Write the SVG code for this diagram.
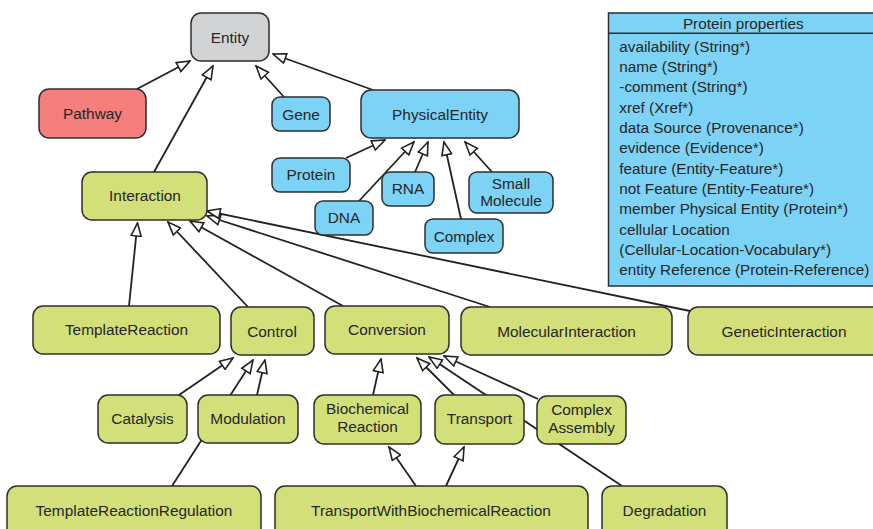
<svg xmlns="http://www.w3.org/2000/svg" width="873" height="529" viewBox="0 0 873 529">
<defs>
<style>
.n rect{stroke:#2e2e2e;stroke-width:1.5}
.g rect{fill:#d1d2d4}
.p rect{fill:#f37e7c}
.b rect{fill:#7dd3f5}
.y rect{fill:#d3e07a}
text{font-family:"Liberation Sans",Arial,sans-serif;font-size:15.4px;fill:#262626;text-anchor:middle}
.props text{text-anchor:start;font-size:15.3px}
.props text.h{text-anchor:middle}
#connectors line{stroke:#222;stroke-width:1.8;fill:none;marker-end:url(#tri)}
</style>
<marker id="tri" viewBox="0 0 15 12" refX="14" refY="6" markerWidth="15" markerHeight="12" markerUnits="userSpaceOnUse" orient="auto">
<path d="M1,1 L14,6 L1,11 Z" fill="#fff" stroke="#222" stroke-width="1.6" stroke-linejoin="miter"/>
</marker>
</defs>
<rect width="873" height="529" fill="#fff"/>
<g id="connectors">
<line x1="137" y1="89" x2="190" y2="61"/>
<line x1="154" y1="172" x2="213" y2="66"/>
<line x1="284" y1="97" x2="256" y2="66"/>
<line x1="373" y1="90" x2="273" y2="54"/>
<line x1="346" y1="158" x2="385" y2="140"/>
<line x1="359" y1="201" x2="414" y2="142"/>
<line x1="415" y1="172" x2="428" y2="142"/>
<line x1="461" y1="219" x2="444" y2="142"/>
<line x1="492" y1="172" x2="465" y2="142"/>
<line x1="129" y1="306" x2="137.5" y2="223"/>
<line x1="248" y1="307" x2="168" y2="222"/>
<line x1="343" y1="306" x2="190" y2="221"/>
<line x1="490" y1="307" x2="207" y2="216"/>
<line x1="690" y1="311" x2="207" y2="211"/>
<line x1="179" y1="395" x2="233" y2="358"/>
<line x1="257" y1="395" x2="265" y2="360"/>
<line x1="172" y1="486" x2="253" y2="360"/>
<line x1="373" y1="395" x2="381" y2="359"/>
<line x1="454" y1="395" x2="417" y2="358"/>
<line x1="622" y1="486" x2="429" y2="357"/>
<line x1="538" y1="399" x2="444" y2="356"/>
<line x1="416" y1="486" x2="389" y2="447"/>
<line x1="446" y1="486" x2="464" y2="447"/>
</g>
<g id="entity" class="n g"><rect x="191" y="13" width="78" height="48" rx="10"/><text x="230" y="43">Entity</text></g>
<g id="pathway" class="n p"><rect x="39" y="89" width="107" height="49" rx="10"/><text x="92.5" y="119.3">Pathway</text></g>
<g id="gene" class="n b"><rect x="272" y="97" width="58" height="34" rx="8"/><text x="301" y="120.3">Gene</text></g>
<g id="physicalentity" class="n b"><rect x="361" y="90" width="158" height="48" rx="10"/><text x="440" y="120.3">PhysicalEntity</text></g>
<g id="protein" class="n b"><rect x="272" y="158" width="78" height="34" rx="8"/><text x="311" y="179.6">Protein</text></g>
<g id="rna" class="n b"><rect x="382" y="172" width="52" height="34" rx="8"/><text x="408" y="193.6">RNA</text></g>
<g id="dna" class="n b"><rect x="315" y="201" width="58" height="34" rx="8"/><text x="344" y="222.6">DNA</text></g>
<g id="complex" class="n b"><rect x="425" y="219" width="78" height="34" rx="8"/><text x="464" y="242">Complex</text></g>
<g id="smallmolecule" class="n b"><rect x="469" y="172" width="84" height="41" rx="8"/><text x="511" y="188.6">Small</text><text x="511" y="206.3">Molecule</text></g>
<g id="interaction" class="n y"><rect x="82" y="172" width="125" height="48" rx="10"/><text x="145" y="201">Interaction</text></g>
<g id="templatereaction" class="n y"><rect x="33" y="306" width="187" height="48" rx="10"/><text x="126.5" y="335.3">TemplateReaction</text></g>
<g id="control" class="n y"><rect x="231" y="307" width="83" height="48" rx="10"/><text x="272" y="337">Control</text></g>
<g id="conversion" class="n y"><rect x="325" y="306" width="124" height="48" rx="10"/><text x="387" y="335.3">Conversion</text></g>
<g id="molecularinteraction" class="n y"><rect x="461" y="307" width="211" height="48" rx="10"/><text x="566.5" y="337">MolecularInteraction</text></g>
<g id="geneticinteraction" class="n y"><rect x="688" y="307" width="200" height="48" rx="10"/><text x="784" y="337">GeneticInteraction</text></g>
<g id="catalysis" class="n y"><rect x="98" y="395" width="89" height="48" rx="10"/><text x="142.5" y="423.6">Catalysis</text></g>
<g id="modulation" class="n y"><rect x="198" y="395" width="100" height="48" rx="10"/><text x="248" y="423.6">Modulation</text></g>
<g id="biochemicalreaction" class="n y"><rect x="314" y="395" width="107" height="49" rx="10"/><text x="367.5" y="414.3">Biochemical</text><text x="367.5" y="432">Reaction</text></g>
<g id="transport" class="n y"><rect x="435" y="395" width="89" height="49" rx="10"/><text x="479.5" y="423.6">Transport</text></g>
<g id="complexassembly" class="n y"><rect x="537" y="396" width="89" height="48" rx="10"/><text x="581.5" y="415.3">Complex</text><text x="581.5" y="433">Assembly</text></g>
<g id="templatereactionregulation" class="n y"><rect x="7" y="486" width="254" height="60" rx="10"/><text x="134" y="516">TemplateReactionRegulation</text></g>
<g id="transportwithbiochemicalreaction" class="n y"><rect x="275" y="486" width="313" height="60" rx="10"/><text x="431" y="516">TransportWithBiochemicalReaction</text></g>
<g id="degradation" class="n y"><rect x="602" y="486" width="125" height="60" rx="10"/><text x="664.5" y="516">Degradation</text></g>
<g id="proteinproperties" class="props">
<rect x="608.5" y="13" width="270" height="273" fill="#7dd3f5" stroke="#2e2e2e" stroke-width="1.5"/>
<line x1="608.5" y1="33.3" x2="873" y2="33.3" stroke="#2e2e2e" stroke-width="1.5"/>
<text class="h" x="743.3" y="29.3">Protein properties</text>
<text x="619.3" y="51.8">availability (String*)</text>
<text x="619.3" y="72.1">name (String*)</text>
<text x="619.3" y="92.4">-comment (String*)</text>
<text x="619.3" y="112.7">xref (Xref*)</text>
<text x="619.3" y="133">data Source (Provenance*)</text>
<text x="619.3" y="153.3">evidence (Evidence*)</text>
<text x="619.3" y="173.6">feature (Entity-Feature*)</text>
<text x="619.3" y="193.9">not Feature (Entity-Feature*)</text>
<text x="619.3" y="214.2">member Physical Entity (Protein*)</text>
<text x="619.3" y="234.5">cellular Location</text>
<text x="619.3" y="254.8">(Cellular-Location-Vocabulary*)</text>
<text x="619.3" y="275.1">entity Reference (Protein-Reference)</text>
</g>
</svg>
